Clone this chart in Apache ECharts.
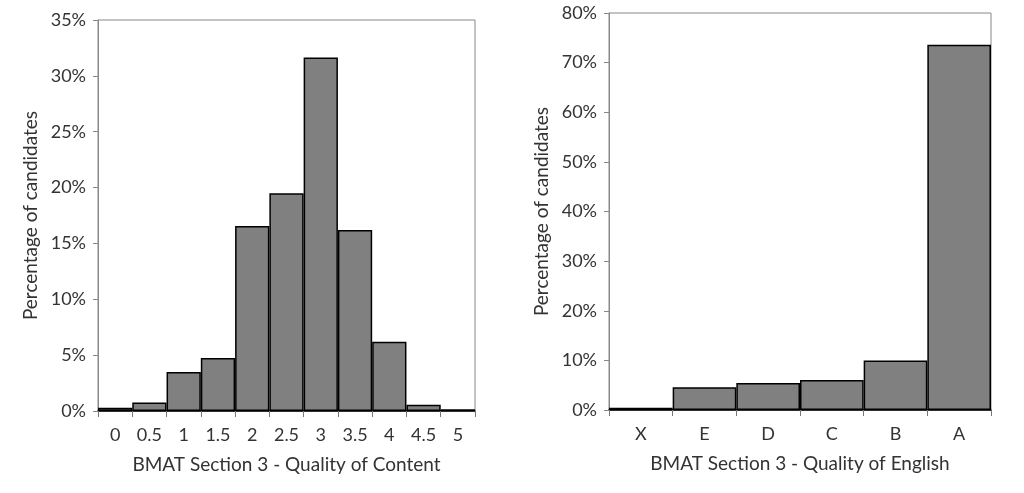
<!DOCTYPE html>
<html><head><meta charset="utf-8">
<script src="https://cdn.jsdelivr.net/npm/echarts@6/dist/echarts.min.js"></script>
<style>html,body{margin:0;padding:0;background:#fff}#c{width:1024px;height:493px}</style>
</head><body><div id="c"></div>
<script>
const contentCats = ['0','0.5','1','1.5','2','2.5','3','3.5','4','4.5','5'];
const contentVals = [0.3,0.75,3.5,4.75,16.55,19.5,31.65,16.2,6.2,0.57,0.15];
const englishCats = ['X','E','D','C','B','A'];
const englishVals = [0.47,4.6,5.45,6.05,10.0,73.6];
const leftTicks = {min:0,max:35,interval:5};
const rightTicks = {min:0,max:80,interval:10};

const font = 'Lato, "Open Sans", sans-serif';
const txt = '#333';
const chart = echarts.init(document.getElementById('c'));
function xAx(idx, cats, name){
  return {type:'category', gridIndex:idx, data:cats, name:name, nameLocation:'middle', nameGap:44,
    nameTextStyle:{fontFamily:font,fontSize:19,color:txt},
    axisLine:{lineStyle:{color:'#000',width:1.5}},
    axisTick:{show:true,length:6,lineStyle:{color:'#777'}},
    axisLabel:{fontFamily:font,fontSize:18,color:txt,margin:15}};
}
function yAx(idx, t){
  return {type:'value', gridIndex:idx, min:t.min, max:t.max, interval:t.interval,
    name:'Percentage of candidates', nameLocation:'middle', nameGap:58, nameRotate:90,
    nameTextStyle:{fontFamily:font,fontSize:19,color:txt},
    axisLine:{show:true,lineStyle:{color:'#888'}},
    axisTick:{show:true,length:5,lineStyle:{color:'#888'}},
    splitLine:{show:false},
    axisLabel:{fontFamily:font,fontSize:18,color:txt,margin:12,formatter:'{value}%'}};
}
const bs = {color:'#808080',borderColor:'#000',borderWidth:1.5};
chart.setOption({
  animation:false,
  grid:[
    {left:98,right:549,top:20,bottom:82,show:true,borderColor:'#888',borderWidth:1},
    {left:609,right:33,top:13,bottom:83,show:true,borderColor:'#888',borderWidth:1}
  ],
  xAxis:[xAx(0,contentCats,'BMAT Section 3 - Quality of Content'), xAx(1,englishCats,'BMAT Section 3 - Quality of English')],
  yAxis:[yAx(0,leftTicks), yAx(1,rightTicks)],
  series:[
    {type:'bar',xAxisIndex:0,yAxisIndex:0,data:contentVals,barCategoryGap:'0%',itemStyle:bs},
    {type:'bar',xAxisIndex:1,yAxisIndex:1,data:englishVals,barCategoryGap:'0%',itemStyle:bs}
  ]
});
</script></body></html>
